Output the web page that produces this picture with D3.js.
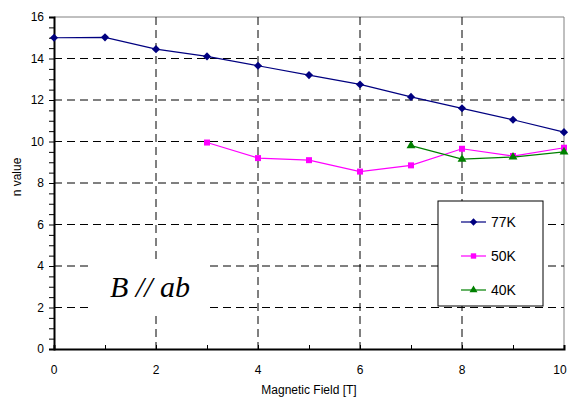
<!DOCTYPE html>
<html>
<head>
<meta charset="utf-8">
<script src="https://cdn.jsdelivr.net/npm/d3@7"></script>
<style>
  body { margin: 0; background: #fff; }
</style>
</head>
<body>
<svg id="chart" width="569" height="399" font-family="'Liberation Sans', Arial, sans-serif"></svg>
<script>
// data
let fields = [0, 1, 2, 3, 4, 5, 6, 7, 8, 9, 10];
let n77 = [15.0, 15.02, 14.45, 14.1, 13.65, 13.2, 12.75, 12.15, 11.6, 11.05, 10.45];
let field50 = [3, 4, 5, 6, 7, 8, 9, 10];
let n50 = [9.95, 9.2, 9.1, 8.55, 8.85, 9.65, 9.3, 9.7];
let field40 = [7, 8, 9, 10];
let n40 = [9.8, 9.15, 9.25, 9.5];
let seriesNames = ["77K", "50K", "40K"];
let xTicks = [0, 2, 4, 6, 8, 10];
let yTicks = [0, 2, 4, 6, 8, 10, 12, 14, 16];

let series = [
    { name: seriesNames[0], xs: fields, ys: n77, color: "#000080", symbol: d3.symbolDiamond2, size: 42 },
    { name: seriesNames[1], xs: field50, ys: n50, color: "#ff00ff", symbol: d3.symbolSquare, size: 36 },
    { name: seriesNames[2], xs: field40, ys: n40, color: "#008000", symbol: d3.symbolTriangle, size: 34 }
];

let svg = d3.select("#chart");
let plotLeft = 54, plotRight = 564, plotTop = 17, plotBottom = 349;

let xScale = d3.scaleLinear().domain([0, 10]).range([plotLeft, plotRight]);
let yScale = d3.scaleLinear().domain([0, 16]).range([plotBottom, plotTop]);

// top and right frame
svg.append("path")
    .attr("d", `M${plotLeft},${plotTop}H${plotRight}V${plotBottom}`)
    .attr("fill", "none")
    .attr("stroke", "#808080")
    .attr("stroke-width", 1);

// dashed grid
let grid = svg.append("g");
grid.selectAll("line.h")
    .data(yTicks.filter(d => d > 0 && d < 16))
    .enter()
    .append("line")
    .attr("x1", plotLeft).attr("x2", plotRight)
    .attr("y1", d => yScale(d)).attr("y2", d => yScale(d))
    .attr("stroke", "#000")
    .attr("stroke-dasharray", "8,5");
grid.selectAll("line.v")
    .data(xTicks.filter(d => d > 0 && d < 10))
    .enter()
    .append("line")
    .attr("y1", plotTop).attr("y2", plotBottom)
    .attr("x1", d => xScale(d)).attr("x2", d => xScale(d))
    .attr("stroke", "#000")
    .attr("stroke-dasharray", "8,5");

// white patch behind the annotation
svg.append("rect")
    .attr("x", 88).attr("y", 263)
    .attr("width", 118).attr("height", 52)
    .attr("fill", "#fff");

// axes
let xAxis = svg.append("g")
    .attr("transform", `translate(0,${plotBottom})`)
    .call(d3.axisBottom(xScale).tickValues(d3.range(0, 11, 1)).tickSize(-4).tickFormat(""));
let yAxis = svg.append("g")
    .attr("transform", `translate(${plotLeft},0)`)
    .call(d3.axisLeft(yScale).tickValues(d3.range(0, 16.5, 0.5)).tickSize(5).tickFormat(""));
xAxis.select(".domain").attr("stroke-width", 2);
yAxis.select(".domain").attr("stroke-width", 2);
svg.selectAll(".tick line").attr("stroke", "#000");

svg.append("g").selectAll("text")
    .data(xTicks)
    .enter()
    .append("text")
    .attr("x", d => Math.min(xScale(d), plotRight - 4))
    .attr("y", plotBottom + 25)
    .attr("text-anchor", "middle")
    .attr("font-size", 12)
    .text(d => d);
svg.append("g").selectAll("text")
    .data(yTicks)
    .enter()
    .append("text")
    .attr("x", plotLeft - 10)
    .attr("y", d => yScale(d) + 4)
    .attr("text-anchor", "end")
    .attr("font-size", 12)
    .text(d => d);

svg.append("text")
    .attr("x", 309).attr("y", 394)
    .attr("text-anchor", "middle")
    .attr("font-size", 12)
    .text("Magnetic Field [T]");
svg.append("text")
    .attr("transform", "translate(21,177) rotate(-90)")
    .attr("text-anchor", "middle")
    .attr("font-size", 12)
    .text("n value");

// series
let line = d3.line();
for (let s of series) {
    let pts = s.xs.map((x, i) => [xScale(x), yScale(s.ys[i])]);
    svg.append("path")
        .attr("d", line(pts))
        .attr("fill", "none")
        .attr("stroke", s.color)
        .attr("stroke-width", 1.2);
    svg.append("g").selectAll("path")
        .data(pts)
        .enter()
        .append("path")
        .attr("transform", d => `translate(${d[0]},${d[1]})`)
        .attr("d", d3.symbol().type(s.symbol).size(s.size))
        .attr("fill", s.color);
}

// annotation
svg.append("text")
    .attr("x", 110).attr("y", 297)
    .style("font-family", "'Liberation Serif', 'Times New Roman', serif")
    .style("font-style", "italic")
    .attr("font-size", 30)
    .text("B // ab");

// legend
let legend = svg.append("g");
legend.append("rect")
    .attr("x", 438).attr("y", 201)
    .attr("width", 105).attr("height", 105)
    .attr("fill", "#fff")
    .attr("stroke", "#000")
    .attr("stroke-width", 1);
series.forEach((s, i) => {
    let y = 222 + i * 34;
    legend.append("line")
        .attr("x1", 461).attr("x2", 486)
        .attr("y1", y).attr("y2", y)
        .attr("stroke", s.color)
        .attr("stroke-width", 1.2);
    legend.append("path")
        .attr("transform", `translate(473.5,${y})`)
        .attr("d", d3.symbol().type(s.symbol).size(s.size * 0.8))
        .attr("fill", s.color);
    legend.append("text")
        .attr("x", 491).attr("y", y + 5)
        .attr("font-size", 14)
        .text(s.name);
});
</script>
</body>
</html>
